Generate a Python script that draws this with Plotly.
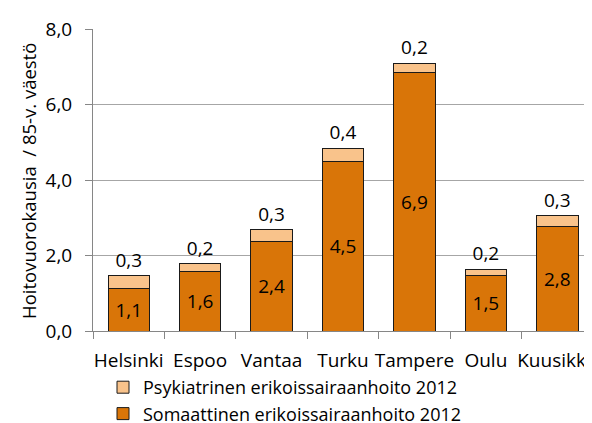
import plotly.graph_objects as go

categories = ["Helsinki", "Espoo", "Vantaa", "Turku", "Tampere", "Oulu", "Kuusikko"]
somaattinen = [1.13, 1.58, 2.36, 4.48, 6.86, 1.46, 2.77]
psykiatrinen = [0.33, 0.20, 0.32, 0.36, 0.23, 0.18, 0.28]
y_ticks = [0, 2, 4, 6, 8]
y_title = "Hoitovuorokausia  / 85-v. väestö"

FONT = "Open Sans, sans-serif"
FS = 19
W, H = 592, 423
L, R, T, B = 85, 7, 21, 100
PW, PH = W - L - R, H - T - B

fig = go.Figure()
fig.add_trace(go.Bar(
    x=categories, y=somaattinen, name="Somaattinen erikoissairaanhoito 2012",
    marker=dict(color="#D97508", line=dict(color="#1a1a1a", width=1)),
    texttemplate="%{y:.1f}", textposition="inside", insidetextanchor="middle",
    textfont=dict(color="black", size=FS, family=FONT),
))
fig.add_trace(go.Bar(
    x=categories, y=psykiatrinen, name="Psykiatrinen erikoissairaanhoito 2012",
    marker=dict(color="#F9C38B", line=dict(color="#1a1a1a", width=1)),
    texttemplate="%{y:.1f}", textposition="outside",
    textfont=dict(color="black", size=FS, family=FONT),
    cliponaxis=False,
))

fig.update_layout(
    width=W, height=H,
    barmode="stack", bargap=0.42,
    separators=", ",
    paper_bgcolor="white", plot_bgcolor="white",
    margin=dict(l=L, r=R, t=T, b=B, autoexpand=False),
    font=dict(family=FONT, size=FS, color="black"),
    showlegend=True,
    legend=dict(
        traceorder="reversed", orientation="v",
        x=(95 - L) / PW, xanchor="left", y=-(361 - (T + PH)) / PH, yanchor="top",
        font=dict(size=18, family=FONT), tracegroupgap=0,
        itemwidth=30, bgcolor="rgba(0,0,0,0)",
    ),
    uniformtext=dict(mode=False),
    annotations=[dict(
        text=y_title, textangle=-90, showarrow=False,
        xref="paper", yref="paper",
        x=(20 - L) / PW, xanchor="center",
        y=(T + PH - 173) / PH, yanchor="middle",
        font=dict(size=18.5, family=FONT, color="black"),
    )],
)
fig.update_yaxes(
    range=[0, 8], tickvals=y_ticks, tickformat=".1f", automargin=False,
    ticklabelstandoff=9,
    showgrid=True, gridcolor="#A6A6A6", gridwidth=1,
    showline=True, linecolor="#868686", linewidth=1,
    ticks="outside", ticklen=7, tickcolor="#868686",
    zeroline=False,
    tickfont=dict(size=FS, family=FONT),
)
fig.update_xaxes(
    showline=True, linecolor="#868686", linewidth=1, mirror=False, automargin=False,
    ticks="outside", ticklen=7, tickcolor="#868686", tickson="boundaries",
    tickangle=0, ticklabelstandoff=12,
    tickfont=dict(size=FS, family=FONT),
)
# right border line of plot area
fig.add_shape(type="line", xref="paper", yref="paper", x0=1, x1=1, y0=0, y1=1,
              line=dict(color="#868686", width=1))

fig.write_html("out.html")
